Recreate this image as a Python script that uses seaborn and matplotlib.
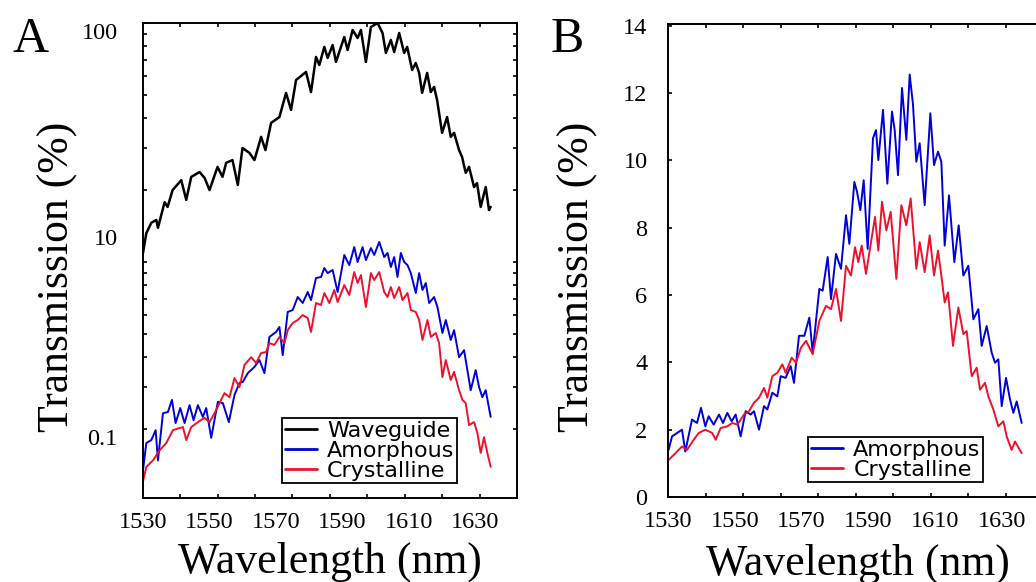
import numpy as np
import pandas as pd
import matplotlib
matplotlib.use("Agg")
import matplotlib.pyplot as plt
import matplotlib.ticker as mticker
import seaborn as sns

# --- data (wavelength in nm, transmission in %) ---
# Panel A, log axis
wl_guide_a = [1530.1, 1531.1, 1532.6, 1534.1, 1534.6, 1536.6, 1537.5, 1539.0, 1541.6, 1543.1,
              1544.6, 1547.1, 1548.6, 1550.1, 1552.5, 1554.0, 1555.1, 1557.0, 1558.6, 1560.0,
              1562.1, 1563.6, 1565.6, 1566.9, 1568.6, 1571.1, 1573.1, 1574.6, 1576.1, 1579.1,
              1580.6, 1582.1, 1583.1, 1584.6, 1585.6, 1587.1, 1588.1, 1590.6, 1591.6, 1593.1,
              1594.6, 1595.6, 1597.1, 1598.6, 1600.6, 1602.1, 1603.1, 1604.6, 1605.6, 1607.1,
              1608.6, 1609.5, 1611.0, 1612.1, 1613.1, 1614.0, 1615.5, 1616.6, 1617.6, 1618.5,
              1620.0, 1621.5, 1622.6, 1623.6, 1625.1, 1626.0, 1627.1, 1628.1, 1629.6, 1630.5,
              1631.6, 1633.1, 1634.1, 1634.6]
t_guide_a = [10.9, 13.2, 14.6, 15.0, 13.9, 17.8, 17.0, 20.0, 22.0, 18.2,
             22.7, 23.8, 22.5, 20.0, 25.0, 22.7, 26.0, 26.7, 21.0, 30.0,
             28.6, 26.7, 33.4, 29.4, 38.2, 40.4, 51.0, 43.3, 57.7, 62.4,
             51.4, 72.1, 66.7, 79.4, 71.4, 80.9, 68.7, 87.4, 77.1, 93.5,
             86.5, 93.5, 68.7, 96.2, 100.0, 90.8, 74.9, 84.9, 75.6, 90.8,
             74.9, 79.4, 63.6, 68.0, 61.8, 51.0, 61.8, 51.4, 54.0, 47.6,
             34.7, 40.4, 33.4, 34.7, 29.4, 27.5, 23.6, 25.0, 20.6, 21.4,
             17.0, 20.6, 16.5, 17.0]

wl_amor_a = [1530.0, 1531.1, 1532.6, 1533.9, 1534.6, 1536.1, 1537.6, 1538.8, 1539.9, 1541.3,
             1542.6, 1544.1, 1545.3, 1546.6, 1548.1, 1549.1, 1550.6, 1552.6, 1554.1, 1555.9,
             1557.6, 1559.1, 1560.1, 1561.6, 1563.6, 1565.1, 1566.6, 1568.1, 1570.1, 1571.1,
             1572.1, 1573.6, 1575.1, 1576.6, 1578.1, 1579.6, 1580.6, 1582.1, 1583.6, 1584.6,
             1585.6, 1587.1, 1588.6, 1590.6, 1592.1, 1593.6, 1594.6, 1596.1, 1597.1, 1598.6,
             1599.6, 1601.1, 1602.6, 1603.6, 1604.6, 1605.6, 1606.6, 1607.6, 1608.6, 1609.6,
             1610.6, 1612.1, 1613.1, 1614.1, 1615.1, 1616.1, 1617.6, 1618.6, 1620.1, 1621.1,
             1622.6, 1623.6, 1625.1, 1626.6, 1628.6, 1630.1, 1631.1, 1632.1, 1633.1, 1634.6]
t_amor_a = [1.31, 1.75, 1.80, 1.98, 1.48, 2.33, 2.36, 2.65, 2.12, 2.45,
            2.12, 2.52, 2.18, 2.52, 2.25, 2.45, 1.84, 2.60, 2.57, 2.14,
            2.78, 3.12, 3.15, 3.43, 3.64, 3.89, 3.43, 4.86, 5.10, 5.35,
            4.08, 6.18, 6.30, 7.14, 6.74, 7.49, 6.93, 8.57, 8.66, 9.44,
            8.99, 9.26, 7.49, 10.70, 9.71, 11.55, 10.00, 11.55, 10.19, 11.44,
            10.70, 12.13, 10.49, 10.91, 9.53, 10.49, 8.66, 10.91, 10.00, 9.71,
            8.99, 7.42, 8.99, 7.64, 8.17, 6.74, 7.14, 6.48, 5.05, 5.72,
            4.72, 5.19, 4.00, 4.28, 2.91, 3.53, 3.00, 2.72, 2.91, 2.25]

wl_cryst_a = [1530.0, 1531.1, 1533.1, 1535.1, 1537.1, 1539.1, 1541.1, 1542.1, 1543.1, 1544.6,
              1546.6, 1548.6, 1550.1, 1551.6, 1553.1, 1554.6, 1556.1, 1557.6, 1559.1, 1560.6,
              1562.6, 1564.1, 1565.6, 1567.1, 1568.1, 1569.6, 1571.1, 1572.6, 1573.6, 1575.1,
              1576.6, 1578.1, 1579.6, 1580.6, 1582.1, 1583.6, 1584.6, 1586.1, 1587.6, 1588.6,
              1590.6, 1592.1, 1593.6, 1594.6, 1595.6, 1597.1, 1598.6, 1599.6, 1601.1, 1602.6,
              1603.6, 1604.6, 1605.6, 1607.1, 1608.1, 1609.6, 1610.6, 1612.1, 1613.1, 1614.1,
              1615.6, 1616.6, 1618.1, 1619.1, 1620.1, 1621.1, 1622.6, 1623.6, 1625.1, 1626.1,
              1627.1, 1628.1, 1629.6, 1630.6, 1631.6, 1632.6, 1633.6, 1634.6]
t_cryst_a = [1.19, 1.39, 1.48, 1.63, 1.75, 1.98, 2.02, 2.04, 1.80, 2.04,
             2.14, 2.23, 2.14, 2.33, 2.57, 2.83, 2.72, 3.27, 3.00, 3.71,
             4.00, 3.78, 4.16, 4.20, 4.58, 4.50, 4.86, 4.58, 5.19, 5.56,
             5.72, 6.00, 5.83, 5.10, 6.74, 6.61, 7.42, 6.74, 7.64, 6.80,
             8.01, 7.28, 9.08, 8.17, 8.82, 6.48, 8.99, 8.41, 9.08, 7.49,
             7.14, 7.86, 7.07, 7.86, 6.93, 7.42, 6.30, 6.18, 5.72, 4.72,
             5.72, 4.86, 5.05, 4.58, 3.30, 3.89, 3.21, 3.47, 2.91, 2.65,
             2.57, 2.08, 2.14, 1.93, 1.59, 1.85, 1.59, 1.39]

# Panel B, linear axis
wl_amor_b = [1530.1, 1531.1, 1532.6, 1534.1, 1535.1, 1537.1, 1538.6, 1539.8, 1541.1, 1542.1,
             1543.6, 1545.2, 1546.4, 1547.7, 1549.0, 1550.2, 1551.7, 1553.2, 1554.7, 1555.7,
             1557.2, 1558.7, 1559.7, 1561.2, 1562.7, 1563.7, 1565.2, 1566.7, 1567.7, 1569.2,
             1570.8, 1572.3, 1573.3, 1575.3, 1576.3, 1577.8, 1578.8, 1580.3, 1581.8, 1583.3,
             1584.3, 1585.8, 1586.6, 1587.6, 1588.6, 1589.8, 1591.4, 1592.3, 1593.0, 1594.4,
             1595.7, 1597.1, 1597.9, 1598.9, 1600.1, 1601.4, 1602.4, 1603.4, 1604.4, 1605.4,
             1606.9, 1608.6, 1609.7, 1610.9, 1611.9, 1612.9, 1614.2, 1615.8, 1617.1, 1618.5,
             1620.0, 1621.5, 1623.0, 1624.0, 1625.5, 1627.0, 1628.0, 1629.0, 1630.0, 1631.3,
             1632.5, 1633.5, 1634.5, 1636.0]
t_amor_b = [1.40, 1.80, 1.90, 2.00, 1.35, 2.30, 2.20, 2.65, 2.10, 2.40,
            2.15, 2.45, 2.20, 2.50, 2.25, 2.45, 1.80, 2.55, 2.45, 2.55,
            2.00, 2.70, 2.60, 3.10, 2.99, 3.59, 3.54, 3.89, 3.39, 4.79,
            4.79, 5.33, 4.29, 6.18, 6.13, 7.13, 5.88, 7.22, 6.78, 8.37,
            7.52, 9.36, 9.07, 8.52, 9.41, 7.37, 10.66, 10.90, 10.01, 11.50,
            9.31, 11.45, 10.90, 9.56, 12.15, 10.61, 12.55, 11.65, 9.96, 10.51,
            8.67, 11.40, 9.86, 10.26, 9.96, 7.47, 8.96, 6.98, 8.07, 6.58,
            6.87, 5.28, 5.58, 4.49, 5.08, 4.29, 3.99, 4.09, 2.70, 3.54,
            2.90, 2.50, 2.84, 2.20]

wl_cryst_b = [1530.1, 1532.1, 1534.1, 1535.6, 1537.6, 1539.1, 1541.1, 1543.2, 1544.2, 1545.7,
              1547.7, 1549.2, 1550.7, 1552.7, 1554.2, 1555.7, 1557.2, 1558.7, 1559.7, 1561.2,
              1562.7, 1564.2, 1565.2, 1567.0, 1568.3, 1569.8, 1571.3, 1573.3, 1575.3, 1577.3,
              1578.8, 1580.3, 1581.8, 1583.3, 1584.8, 1586.0, 1587.0, 1588.0, 1589.3, 1590.8,
              1592.0, 1593.0, 1594.1, 1595.4, 1596.7, 1598.4, 1599.9, 1601.4, 1602.7, 1604.4,
              1605.4, 1606.9, 1608.4, 1609.7, 1610.9, 1611.9, 1612.9, 1613.9, 1615.4, 1617.0,
              1618.5, 1619.5, 1621.0, 1622.5, 1623.5, 1625.0, 1626.0, 1627.5, 1629.0, 1630.5,
              1631.5, 1633.0, 1634.0, 1636.0]
t_cryst_b = [1.10, 1.30, 1.50, 1.40, 1.70, 1.90, 2.00, 1.90, 1.70, 2.05,
             2.10, 2.20, 2.15, 2.45, 2.55, 2.80, 2.95, 3.24, 2.95, 3.59,
             3.69, 3.94, 3.69, 4.14, 3.99, 4.44, 4.64, 4.24, 5.23, 5.68,
             5.58, 6.18, 5.23, 6.87, 6.58, 7.42, 6.98, 7.47, 6.63, 7.57,
             8.32, 7.32, 8.77, 7.92, 8.47, 6.48, 8.67, 8.07, 8.87, 6.78,
             7.57, 6.68, 7.77, 6.58, 7.32, 6.58, 5.78, 6.08, 4.49, 5.63,
             4.84, 4.93, 3.59, 3.84, 3.19, 3.39, 2.99, 2.60, 2.10, 2.25,
             1.80, 1.40, 1.65, 1.30]

xtick_vals = [1530, 1550, 1570, 1590, 1610, 1630]
xtick_labels = ["1530", "1550", "1570", "1590", "1610", "1630"]
# panel A labels sit where they are drawn in the figure, not on the decades
ytick_vals_a = [1.85, 12.7, 92.6]
ytick_labels_a = ["0.1", "10", "100"]
ytick_vals_b = [0, 2, 4, 6, 8, 10, 12, 14]

BLACK = "#000000"
BLUE = "#0000d8"
RED = "#f0102c"

sns.set_style("ticks")
plt.rcParams["font.family"] = ["Liberation Serif", "DejaVu Serif"]
plt.rcParams["axes.linewidth"] = 1.4
for key in ("text.color", "axes.labelcolor", "xtick.color", "ytick.color", "axes.edgecolor"):
    plt.rcParams[key] = "black"

fig = plt.figure(figsize=(10.36, 5.82), dpi=100)
ax_a = fig.add_axes([0.1377, 0.1443, 0.3613, 0.8162])
ax_b = fig.add_axes([0.6451, 0.1460, 0.3620, 0.8127])

sns.lineplot(x=wl_guide_a, y=t_guide_a, ax=ax_a, color=BLACK, lw=1.8, label="Waveguide")
sns.lineplot(x=wl_amor_a, y=t_amor_a, ax=ax_a, color=BLUE, lw=1.4, label="Amorphous")
sns.lineplot(x=wl_cryst_a, y=t_cryst_a, ax=ax_a, color=RED, lw=1.4, label="Crystalline")

sns.lineplot(x=wl_amor_b, y=t_amor_b, ax=ax_b, color=BLUE, lw=1.4, label="Amorphous")
sns.lineplot(x=wl_cryst_b, y=t_cryst_b, ax=ax_b, color=RED, lw=1.4, label="Crystalline")

for ax in (ax_a, ax_b):
    ax.set_xlim(1530, 1642.5)
    ax.xaxis.set_major_locator(mticker.FixedLocator(xtick_vals))
    ax.set_xticklabels(xtick_labels)
    ax.xaxis.set_minor_locator(mticker.LinearLocator(11))
    ax.tick_params(axis="x", which="major", length=0, pad=10, labelsize=17.5)
    ax.tick_params(axis="x", which="minor", direction="in", length=3, width=1.2,
                   top=True, bottom=True)
    ax.set_xlabel("Wavelength (nm)", fontsize=31.5)
    ax.set_ylabel("Transmission (%)", fontsize=31.5)
    for s in ax.spines.values():
        s.set_visible(True)
        s.set_color("black")
    leg = ax.legend(loc="lower right", bbox_to_anchor=(0.84, 0.031), borderaxespad=0,
                    prop={"family": "DejaVu Sans", "size": 16}, labelspacing=0.0,
                    handlelength=1.45, handletextpad=0.45, borderpad=0.12,
                    fancybox=False, framealpha=1, edgecolor="black")
    leg.get_frame().set_linewidth(1.3)
    for ln in leg.get_lines():
        ln.set_linewidth(2.0)

# panel A: log scale
ax_a.set_yscale("log")
ax_a.set_ylim(1.03, 100)
ax_a.yaxis.set_major_locator(mticker.FixedLocator(ytick_vals_a))
ax_a.set_yticklabels(ytick_labels_a)
ax_a.yaxis.set_minor_locator(mticker.LogLocator(base=10, subs=np.arange(1, 10), numticks=20))
ax_a.yaxis.set_minor_formatter(mticker.NullFormatter())
ax_a.tick_params(axis="y", which="major", length=0, pad=18, labelsize=17.5)
ax_a.tick_params(axis="y", which="minor", direction="in", length=3, width=1.2,
                 left=True, right=True)
ax_a.yaxis.set_label_coords(-0.174, 0.466)
ax_a.xaxis.set_label_coords(0.5, -0.092)

# panel B: linear scale
ax_b.set_ylim(0, 14.05)
ax_b.yaxis.set_major_locator(mticker.FixedLocator(ytick_vals_b))
ax_b.set_yticklabels([str(v) for v in ytick_vals_b])
ax_b.tick_params(axis="y", which="major", direction="in", length=3, width=1.2,
                 pad=15, labelsize=17.5)
ax_b.yaxis.set_label_coords(-0.187, 0.466)
ax_b.xaxis.set_label_coords(0.505, -0.098)

fig.text(0.0116, 0.9107, "A", fontsize=36, ha="left", va="baseline")
fig.text(0.531, 0.9107, "B", fontsize=36, ha="left", va="baseline")

fig.savefig("out.png", dpi=100)
